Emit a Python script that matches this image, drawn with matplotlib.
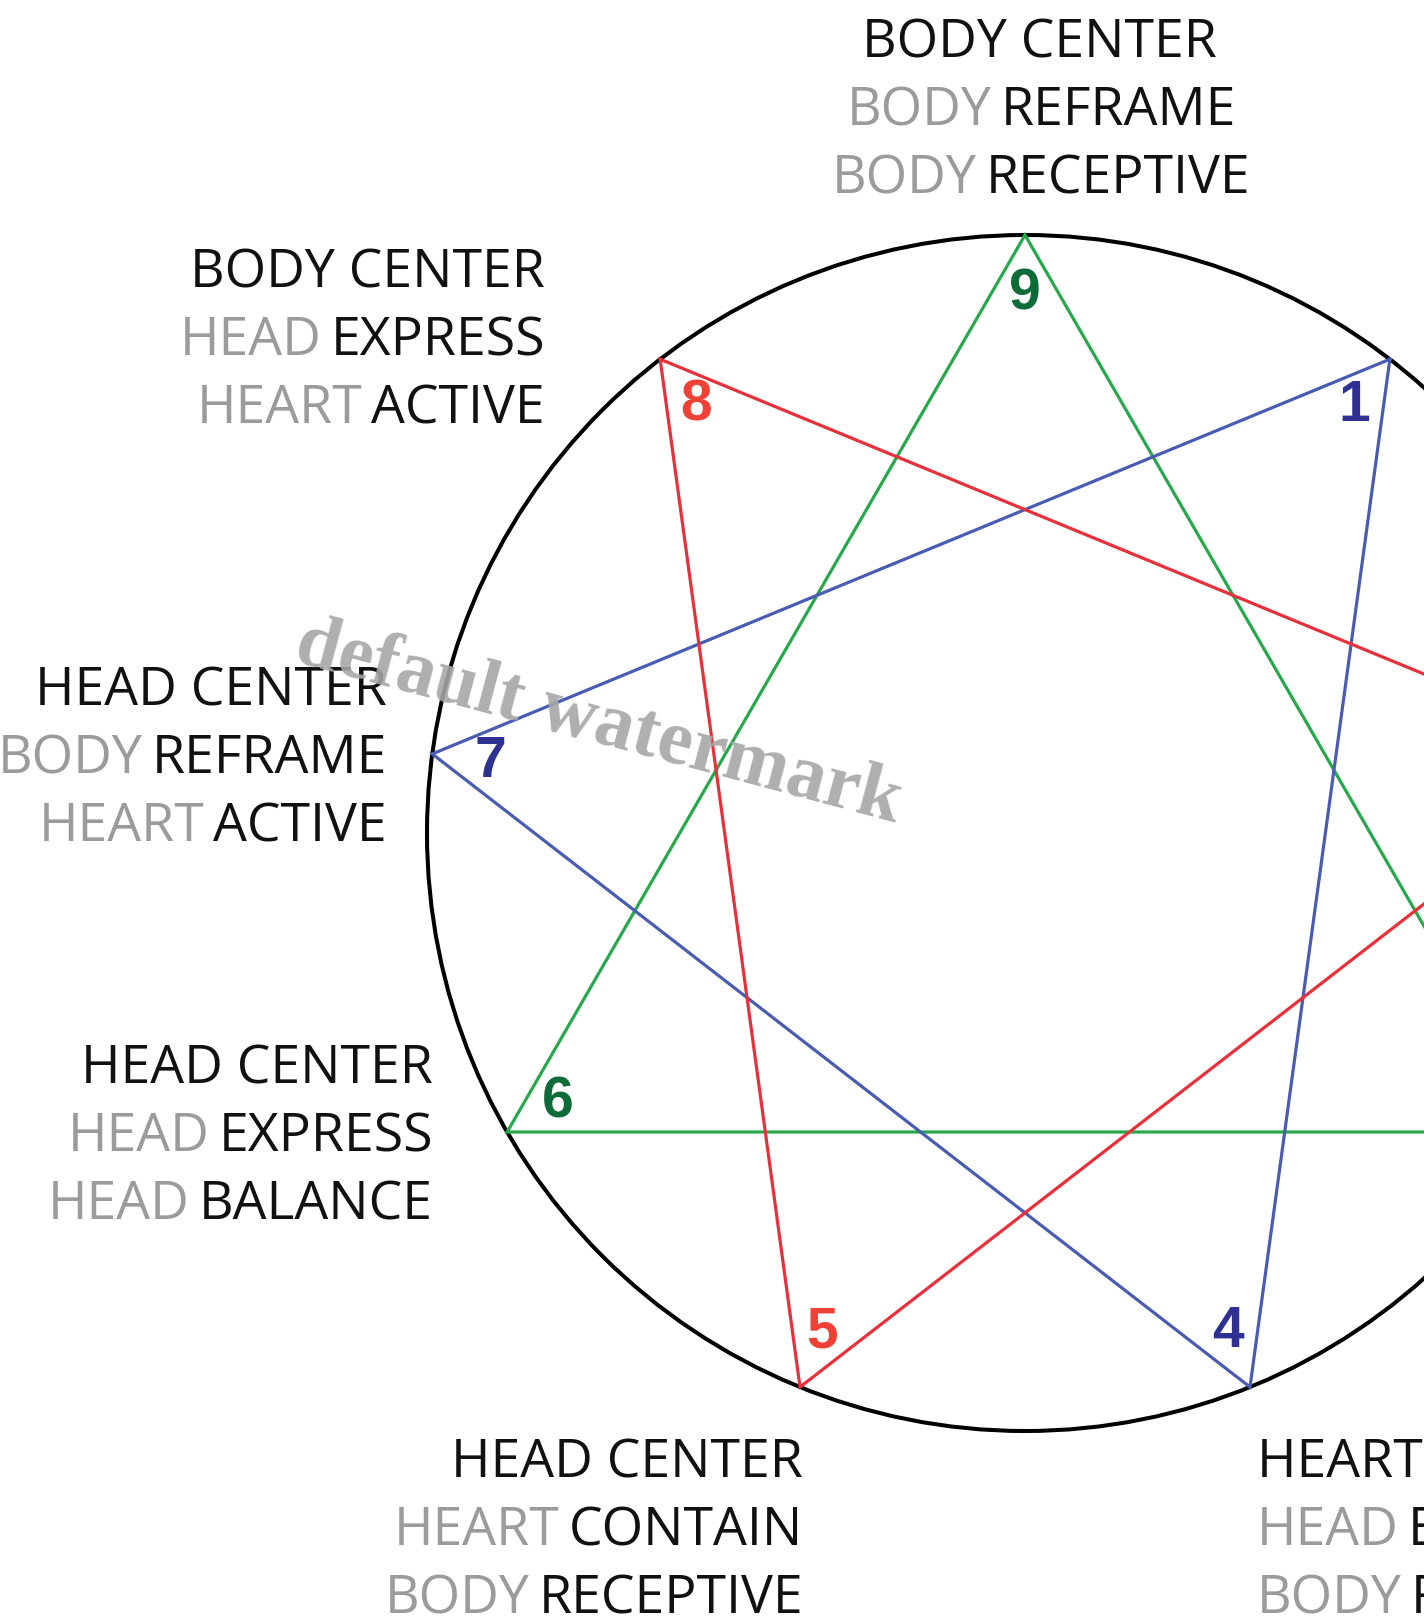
import numpy as np
import matplotlib
matplotlib.use("Agg")
import matplotlib.pyplot as plt
from matplotlib.patches import Circle

# enneagram points: angle (deg, clockwise from top) of each point on the circle
points = [9, 1, 2, 3, 4, 5, 6, 7, 8]
angles = [0, 37.6, 82.4, 120, 157.9, -157.9, -120, -82.4, -37.6]

# the three triangles and their colours
triangles = [(3, 6, 9), (1, 4, 7), (2, 5, 8)]
line_colors = ["#27a84a", "#4a5cb2", "#e8303a"]
num_colors = {9: "#0d6b37", 3: "#0d6b37", 6: "#0d6b37",
              1: "#2e3192", 4: "#2e3192", 7: "#2e3192",
              2: "#ef4136", 5: "#ef4136", 8: "#ef4136"}

# labels: title line, then (grey word, black word) pairs
label_titles = {9: "BODY CENTER", 8: "BODY CENTER", 7: "HEAD CENTER",
                6: "HEAD CENTER", 5: "HEAD CENTER", 4: "HEART CENTER"}
label_lines = {
    9: [("BODY", "REFRAME"), ("BODY", "RECEPTIVE")],
    8: [("HEAD", "EXPRESS"), ("HEART", "ACTIVE")],
    7: [("BODY", "REFRAME"), ("HEART", "ACTIVE")],
    6: [("HEAD", "EXPRESS"), ("HEAD", "BALANCE")],
    5: [("HEART", "CONTAIN"), ("BODY", "RECEPTIVE")],
    4: [("HEAD", "EXPRESS"), ("BODY", "REFRAME")],
}
# anchor (x, first baseline y) and alignment, in pixel coords
label_pos = {9: (1039, 57, "center"), 8: (545, 287, "right"),
             7: (387, 705, "right"), 6: (433, 1083, "right"),
             5: (803, 1477, "right"), 4: (1257, 1477, "left")}

W, H = 1424, 1620
cx, cy, R = 1025, 833, 598

fig = plt.figure(figsize=(W / 100, H / 100), dpi=100)
ax = fig.add_axes([0, 0, 1, 1])
ax.set_xlim(0, W)
ax.set_ylim(H, 0)
ax.axis("off")

pos = {}
for p, a in zip(points, angles):
    t = np.radians(a)
    pos[p] = (cx + R * np.sin(t), cy - R * np.cos(t))

ax.add_patch(Circle((cx, cy), R, fill=False, ec="black", lw=2.9, zorder=2))

for tri, col in zip(triangles, line_colors):
    xs = [pos[p][0] for p in tri] + [pos[tri[0]][0]]
    ys = [pos[p][1] for p in tri] + [pos[tri[0]][1]]
    ax.plot(xs, ys, color=col, lw=2.3, zorder=3, solid_joinstyle="miter")

# numbers just inside each vertex
for p, a in zip(points, angles):
    t = np.radians(a)
    r = R - 59
    ax.text(cx + r * np.sin(t), cy - r * np.cos(t), str(p), color=num_colors[p],
            fontsize=41, fontweight="heavy", family="Liberation Sans",
            ha="center", va="center", zorder=4)

fs = 38.5
step = 68
gap = 6.5  # points between grey and black word
fam = "Open Sans"
grey = "#9b9b9b"
black = "#111111"
for p, title in label_titles.items():
    x, y0, ha = label_pos[p]
    ax.text(x, y0, title, fontsize=fs, family=fam, color=black, ha=ha, va="baseline")
    for i, (g, b) in enumerate(label_lines[p]):
        y = y0 + step * (i + 1)
        full = ax.text(x, y, g + " " + b, fontsize=fs, family=fam, color="none",
                       ha=ha, va="baseline")
        if ha == "left":
            gt = ax.annotate(g, xy=(0, 0), xycoords=full, ha="left", va="bottom",
                             fontsize=fs, family=fam, color=grey)
            ax.annotate(b, xy=(1, 0), xycoords=gt, xytext=(gap, 0),
                        textcoords="offset points", ha="left", va="bottom",
                        fontsize=fs, family=fam, color=black)
        else:
            bt = ax.annotate(b, xy=(1, 0), xycoords=full, ha="right", va="bottom",
                             fontsize=fs, family=fam, color=black)
            ax.annotate(g, xy=(0, 0), xycoords=bt, xytext=(-gap, 0),
                        textcoords="offset points", ha="right", va="bottom",
                        fontsize=fs, family=fam, color=grey)

ax.text(598, 724, "default watermark", fontsize=56, fontweight="bold",
        family="Liberation Serif", color="#a6a6a6", alpha=0.9, rotation=-15,
        rotation_mode="anchor", ha="center", va="center", zorder=6)

fig.savefig("out.png", dpi=100)
